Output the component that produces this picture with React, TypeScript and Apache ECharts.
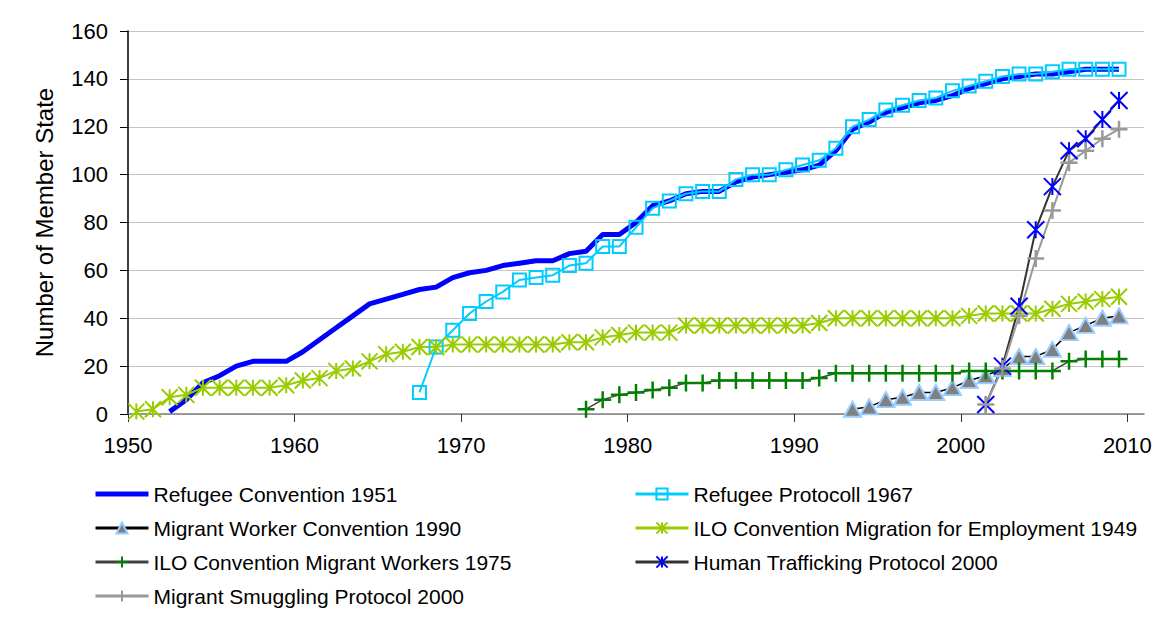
import React, { useEffect, useRef } from "react";
import * as echarts from "echarts";

const FONT = "'Liberation Sans', Arial, sans-serif";

const xTickValues = [1950, 1960, 1970, 1980, 1990, 2000, 2010];
const yTickValues = [0, 20, 40, 60, 80, 100, 120, 140, 160];

const seriesNames = [
  "Refugee Convention 1951",
  "Refugee Protocoll 1967",
  "Migrant Worker Convention 1990",
  "ILO Convention Migration for Employment 1949",
  "ILO Convention Migrant Workers 1975",
  "Human Trafficking Protocol 2000",
  "Migrant Smuggling Protocol 2000",
];

// first year of each series, values one per year
const refugeeConventionStart = 1952;
const refugeeConvention = [
  1, 6, 13, 16, 20, 22, 22, 22, 26, 31,
  36, 41, 46, 48, 50, 52, 53, 57, 59, 60,
  62, 63, 64, 64, 67, 68, 75, 75, 80, 87,
  89, 92, 93, 93, 97, 99, 100, 101, 102, 104,
  110, 119, 122, 126, 128, 130, 131, 133, 136, 138,
  140, 141, 142, 142, 143, 144, 144, 144,
];

const refugeeProtocolStart = 1967;
const refugeeProtocol = [
  9, 28, 35, 42, 47, 51, 56, 57, 58, 62,
  63, 70, 70, 78, 86, 89, 92, 93, 93, 98,
  100, 100, 102, 104, 106, 111, 120, 123, 127, 129,
  131, 132, 135, 137, 139, 141, 142, 142, 143, 144,
  144, 144, 144,
];

const migrantWorkerStart = 1993;
const migrantWorker = [2, 3, 6, 7, 9, 9, 11, 14, 16, 19, 24, 24, 27, 34, 37, 40, 41];

const ilo1949Start = 1950;
const ilo1949 = [
  1, 2, 7, 8, 11, 11, 11, 11, 11, 12,
  14, 15, 18, 19, 22, 25, 26, 28, 28, 29,
  29, 29, 29, 29, 29, 29, 30, 30, 32, 33,
  34, 34, 34, 37, 37, 37, 37, 37, 37, 37,
  37, 38, 40, 40, 40, 40, 40, 40, 40, 40,
  41, 42, 42, 42, 42, 44, 46, 47, 48, 49,
];

const ilo1975Start = 1977;
const ilo1975 = [
  2, 6, 8, 9, 10, 11, 13, 13, 14, 14,
  14, 14, 14, 14, 15, 17, 17, 17, 17, 17,
  17, 17, 17, 18, 18, 18, 18, 18, 18, 22,
  23, 23, 23,
];

const traffickingStart = 2001;
const trafficking = [4, 20, 45, 77, 95, 110, 115, 123, 131];

const smugglingStart = 2001;
const smuggling = [4, 19, 41, 65, 85, 105, 110, 115, 119];

const ASTER = "path://M0,0L10,10M10,0L0,10M5,0L5,10";
const PLUS = "path://M0,5L10,5M5,0L5,10";
const THICK_LINE_ICON = "path://M0,0M53,14M0,4.5L53,4.5L53,9.5L0,9.5Z";

function pts(start: number, vals: number[]) {
  return vals.map((v, i) => [start + i + 0.5, v]);
}

export default function App() {
  const ref = useRef<HTMLDivElement>(null);
  useEffect(() => {
    if (!ref.current) return;
    const chart = echarts.init(ref.current, undefined, { renderer: "svg" });
    const clear = "rgba(0,0,0,0)";
    const legendText = { fontSize: 21, lineHeight: 24, color: "#000", fontFamily: FONT };
    const legendCommon = {
      top: 482, orient: "vertical", itemWidth: 53, itemHeight: 14, itemGap: 10, padding: 0,
      textStyle: legendText, selectedMode: false, lineStyle: { width: 3 },
    };
    chart.setOption({
      animation: false,
      backgroundColor: "#fff",
      textStyle: { fontFamily: FONT },
      grid: { left: 128, right: 18, top: 31, bottom: 206, containLabel: false },
      legend: [
        {
          ...legendCommon,
          left: 94,
          data: [
            { name: seriesNames[0], icon: THICK_LINE_ICON },
            seriesNames[2], seriesNames[4], seriesNames[6],
          ],
        },
        {
          ...legendCommon,
          left: 634,
          data: [seriesNames[1], seriesNames[3], seriesNames[5]],
        },
      ],
      xAxis: {
        type: "value", min: 1950, max: 2011, interval: 10,
        axisLine: { show: true, lineStyle: { color: "#808080", width: 1.5 } },
        axisTick: { show: true, length: 8, customValues: xTickValues, lineStyle: { color: "#333" } },
        axisLabel: {
          customValues: xTickValues, fontSize: 22, color: "#000", margin: 20, fontFamily: FONT,
          formatter: (v: number) => String(v),
        },
        splitLine: { show: false },
      },
      yAxis: {
        type: "value", min: 0, max: 160, interval: 20,
        name: "Number of Member State", nameLocation: "middle", nameRotate: 90, nameGap: 72,
        nameTextStyle: { fontSize: 24, color: "#000", fontFamily: FONT },
        axisLine: { show: true, lineStyle: { color: "#000", width: 1.5 } },
        axisTick: { show: true, length: 8, lineStyle: { color: "#000" } },
        axisLabel: {
          fontSize: 22, color: "#000", margin: 20, fontFamily: FONT, customValues: yTickValues,
          formatter: (v: number) => String(v),
        },
        splitLine: { show: true, lineStyle: { color: "#c4c4c4", width: 1.2 } },
      },
      series: [
        {
          name: seriesNames[0], type: "line", data: pts(refugeeConventionStart, refugeeConvention),
          symbol: "none", lineStyle: { color: "#0000ff", width: 5 }, itemStyle: { color: "#0000ff" },
        },
        {
          name: seriesNames[1], type: "line", data: pts(refugeeProtocolStart, refugeeProtocol),
          symbol: "rect", symbolSize: 13,
          lineStyle: { color: "#00ccff", width: 2 },
          itemStyle: { color: clear, borderColor: "#00ccff", borderWidth: 2 },
        },
        {
          name: seriesNames[2], type: "line", data: pts(migrantWorkerStart, migrantWorker),
          symbol: "triangle", symbolSize: [17, 15],
          lineStyle: { color: "#000", width: 1.5 },
          itemStyle: { color: "#808080", borderColor: "#99ccff", borderWidth: 2 },
        },
        {
          name: seriesNames[3], type: "line", data: pts(ilo1949Start, ilo1949),
          symbol: ASTER, symbolSize: 16,
          lineStyle: { color: "#99cc00", width: 2 },
          itemStyle: { color: clear, borderColor: "#99cc00", borderWidth: 2 },
        },
        {
          name: seriesNames[4], type: "line", data: pts(ilo1975Start, ilo1975),
          symbol: PLUS, symbolSize: 17,
          lineStyle: { color: "#404040", width: 1.5 },
          itemStyle: { color: clear, borderColor: "#008000", borderWidth: 2.5 },
        },
        {
          name: seriesNames[5], type: "line", data: pts(traffickingStart, trafficking),
          symbol: ASTER, symbolSize: 17,
          lineStyle: { color: "#333333", width: 2 },
          itemStyle: { color: clear, borderColor: "#0000ff", borderWidth: 2 },
        },
        {
          name: seriesNames[6], type: "line", data: pts(smugglingStart, smuggling),
          symbol: PLUS, symbolSize: 17,
          lineStyle: { color: "#999999", width: 2 },
          itemStyle: { color: clear, borderColor: "#999999", borderWidth: 2.5 },
        },
      ],
    });
    return () => chart.dispose();
  }, []);
  return (
    <div
      ref={ref}
      style={{ position: "absolute", left: 0, top: 0, width: 1162, height: 620, background: "#fff" }}
    />
  );
}
